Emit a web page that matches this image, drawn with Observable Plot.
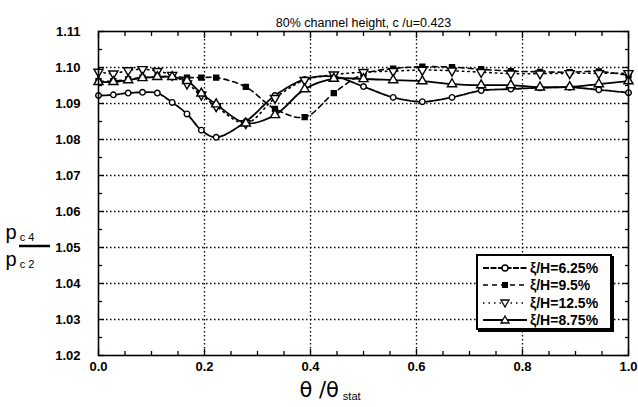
<!DOCTYPE html>
<html><head><meta charset="utf-8">
<script src="https://cdn.jsdelivr.net/npm/d3@7"></script>
<script src="https://cdn.jsdelivr.net/npm/@observablehq/plot@0.6"></script>
<style>
body{margin:0;background:#fff;font-family:"Liberation Sans",Arial,sans-serif;}
#wrap{position:relative;width:638px;height:407px;overflow:hidden;}
#legend{position:absolute;left:476px;top:254px;width:136px;height:76px;border:2px solid #000;box-shadow:2px 2px 0 #000;background:#fff;box-sizing:border-box;padding:3px 0 0 4px;}
.row{display:flex;align-items:center;height:17.5px;font-weight:bold;font-size:14px;}
.row svg{margin-right:2px;}
</style></head><body><div id="wrap"><div id="legend"></div></div>
<script>
// data
const theta = [0, 0.028, 0.056, 0.083, 0.111, 0.139, 0.167, 0.194, 0.222, 0.278, 0.333, 0.389, 0.444, 0.5, 0.556, 0.611, 0.667, 0.722, 0.778, 0.833, 0.889, 0.944, 1.0];
const seriesNames = ["ξ/H=6.25%", "ξ/H=9.5%", "ξ/H=12.5%", "ξ/H=8.75%"];
const xi625 = [1.0922, 1.0924, 1.0929, 1.0931, 1.0929, 1.0903, 1.0871, 1.0826, 1.0806, 1.0850, 1.0922, 1.0967, 1.0975, 1.0947, 1.0917, 1.0905, 1.0917, 1.0936, 1.0940, 1.0944, 1.0945, 1.0938, 1.0930];
const xi95  = [1.0962, 1.0962, 1.0967, 1.0972, 1.0974, 1.0975, 1.0972, 1.0972, 1.0972, 1.0946, 1.0885, 1.0862, 1.0929, 1.0982, 1.0997, 1.1002, 1.1001, 1.0995, 1.0990, 1.0988, 1.0987, 1.0989, 1.0978];
const xi125 = [1.0988, 1.0983, 1.0992, 1.0995, 1.0990, 1.0979, 1.0955, 1.0924, 1.0892, 1.0845, 1.0915, 1.0965, 1.0980, 1.0987, 1.0990, 1.0993, 1.0991, 1.0987, 1.0983, 1.0983, 1.0984, 1.0984, 1.0984];
const xi875 = [1.0960, 1.0960, 1.0965, 1.0971, 1.0974, 1.0974, 1.0963, 1.0928, 1.0898, 1.0845, 1.0868, 1.0940, 1.0969, 1.0968, 1.0965, 1.0962, 1.0954, 1.0951, 1.0951, 1.0945, 1.0946, 1.0954, 1.0962];
const xTickLabels = [0, 0.2, 0.4, 0.6, 0.8, 1.0];
const xMinorTicks = [0.05,0.1,0.15,0.25,0.3,0.35,0.45,0.5,0.55,0.65,0.7,0.75,0.85,0.9,0.95];
const yTickLabels = [1.02,1.03,1.04,1.05,1.06,1.07,1.08,1.09,1.10,1.11];
const yMinorTicks = [1.025,1.035,1.045,1.055,1.065,1.075,1.085,1.095,1.105];
const xGrid = [0.2,0.4,0.6,0.8];
const yGrid = [1.03,1.04,1.05,1.06,1.07,1.08,1.09,1.10];
const titleText = "80% channel height, c /u=0.423";

const seriesValues = [xi625, xi95, xi125, xi875];
const styles = [
  {dash:"6,1.5", width:1.8, symbol:"circle", fill:"#fff", rotate:0, r:2.8},
  {dash:"5,4", width:1.6, symbol:"square", fill:"#000", rotate:0, r:2.8},
  {dash:"1.5,4", width:1.6, symbol:"triangle", fill:"#fff", rotate:180, r:3.4},
  {dash:null, width:1.8, symbol:"triangle", fill:"#fff", rotate:0, r:3.4}
];
const rows = [];
seriesNames.forEach((s,i)=>seriesValues[i].forEach((v,j)=>rows.push({series:s, theta:theta[j], ratio:v})));

const marks = [
  Plot.gridX(xGrid, {stroke:"#000", strokeOpacity:1, strokeDasharray:"1.5,2.5", strokeWidth:1.3}),
  Plot.gridY(yGrid, {stroke:"#000", strokeOpacity:1, strokeDasharray:"1.5,2.5", strokeWidth:1.3}),
];
seriesNames.forEach((s,i)=>{
  const st = styles[i];
  marks.push(Plot.line(rows, {filter:d=>d.series===s, x:"theta", y:"ratio", stroke:"#000", strokeWidth:st.width, strokeDasharray:st.dash, curve:"catmull-rom"}));
});
seriesNames.forEach((s,i)=>{
  const st = styles[i];
  marks.push(Plot.dot(rows, {filter:d=>d.series===s, x:"theta", y:"ratio", symbol:()=>st.symbol, r:st.r, fill:st.fill, stroke:"#000", strokeWidth:1.4, rotate:st.rotate}));
});
marks.push(
  Plot.frame({stroke:"#000", strokeWidth:1.6}),
  Plot.axisX(xTickLabels, {anchor:"bottom", tickSize:-6, tickFormat:()=>"", label:null, strokeWidth:1.3}),
  Plot.axisX(xTickLabels, {anchor:"top", tickSize:-6, tickFormat:()=>"", label:null, strokeWidth:1.3}),
  Plot.axisX(xMinorTicks, {anchor:"bottom", tickSize:-4, tickFormat:()=>"", label:null, strokeWidth:1.3}),
  Plot.axisX(xMinorTicks, {anchor:"top", tickSize:-4, tickFormat:()=>"", label:null, strokeWidth:1.3}),
  Plot.axisY(yTickLabels, {anchor:"left", tickSize:-6, tickFormat:()=>"", label:null, strokeWidth:1.3}),
  Plot.axisY(yTickLabels, {anchor:"right", tickSize:-6, tickFormat:()=>"", label:null, strokeWidth:1.3}),
  Plot.axisY(yMinorTicks, {anchor:"left", tickSize:-4, tickFormat:()=>"", label:null, strokeWidth:1.3}),
  Plot.axisY(yMinorTicks, {anchor:"right", tickSize:-4, tickFormat:()=>"", label:null, strokeWidth:1.3}),
  Plot.axisX(xTickLabels, {anchor:"bottom", tickSize:0, tickPadding:6, tickFormat:d=>d.toFixed(1), label:null, fontSize:13, fontWeight:"bold"}),
  Plot.axisY(yTickLabels, {anchor:"left", tickSize:0, tickPadding:18, tickFormat:d=>d.toFixed(2), label:null, fontSize:13, fontWeight:"bold"}),
  Plot.text([titleText], {frameAnchor:"top", dy:-13, fontSize:12.5, fill:"#000"})
);

const plot = Plot.plot({
  width:638, height:407, marginLeft:98, marginRight:10, marginTop:31, marginBottom:52,
  x:{domain:[0,1]}, y:{domain:[1.02,1.11]},
  style:{fontFamily:"'Liberation Sans', Arial, sans-serif", color:"#000", background:"#fff"},
  marks
});
document.getElementById("wrap").prepend(plot);

// axis titles with subscripts
const svg = d3.select(plot);
const yl = svg.append("g").attr("font-family","'Liberation Sans', Arial, sans-serif").attr("fill","#000");
const t1 = yl.append("text").attr("x",20).attr("y",239).attr("font-size",20);
t1.append("tspan").text("p");
t1.append("tspan").attr("font-size",11).attr("dx",3).attr("dy",2).text("c 4");
yl.append("line").attr("x1",19).attr("x2",50).attr("y1",246).attr("y2",246).attr("stroke","#000").attr("stroke-width",2.5);
const t2 = yl.append("text").attr("x",20).attr("y",266).attr("font-size",20);
t2.append("tspan").text("p");
t2.append("tspan").attr("font-size",11).attr("dx",3).attr("dy",2).text("c 2");

const xl = svg.append("text").attr("x",330).attr("y",397).attr("font-size",21).attr("font-family","'DejaVu Sans', sans-serif").attr("fill","#000");
xl.append("tspan").text("θ /θ");
xl.append("tspan").attr("font-size",11).attr("font-family","'Liberation Sans', Arial").attr("dx",4).attr("dy",3).text("stat");

// legend
const leg = document.getElementById("legend");
seriesNames.forEach((s,i)=>{
  const st = styles[i];
  const row = document.createElement("div"); row.className="row";
  const w=46,h=14;
  let mk="";
  if(st.symbol==="circle") mk=`<circle cx="23" cy="7" r="3" fill="#fff" stroke="#000" stroke-width="1.4"/>`;
  if(st.symbol==="square") mk=`<rect x="20" y="4" width="6" height="6" fill="#000"/>`;
  if(st.symbol==="triangle" && st.rotate===180) mk=`<path d="M19,4 L27,4 L23,11 Z" fill="#fff" stroke="#000" stroke-width="1.3"/>`;
  if(st.symbol==="triangle" && st.rotate===0) mk=`<path d="M19,10 L27,10 L23,3 Z" fill="#fff" stroke="#000" stroke-width="1.3"/>`;
  row.innerHTML = `<svg width="${w}" height="${h}"><line x1="1" x2="45" y1="7" y2="7" stroke="#000" stroke-width="${st.width}" ${st.dash?`stroke-dasharray="${st.dash}"`:""}/>${mk}</svg><span>${s}</span>`;
  leg.appendChild(row);
});
</script></body></html>
